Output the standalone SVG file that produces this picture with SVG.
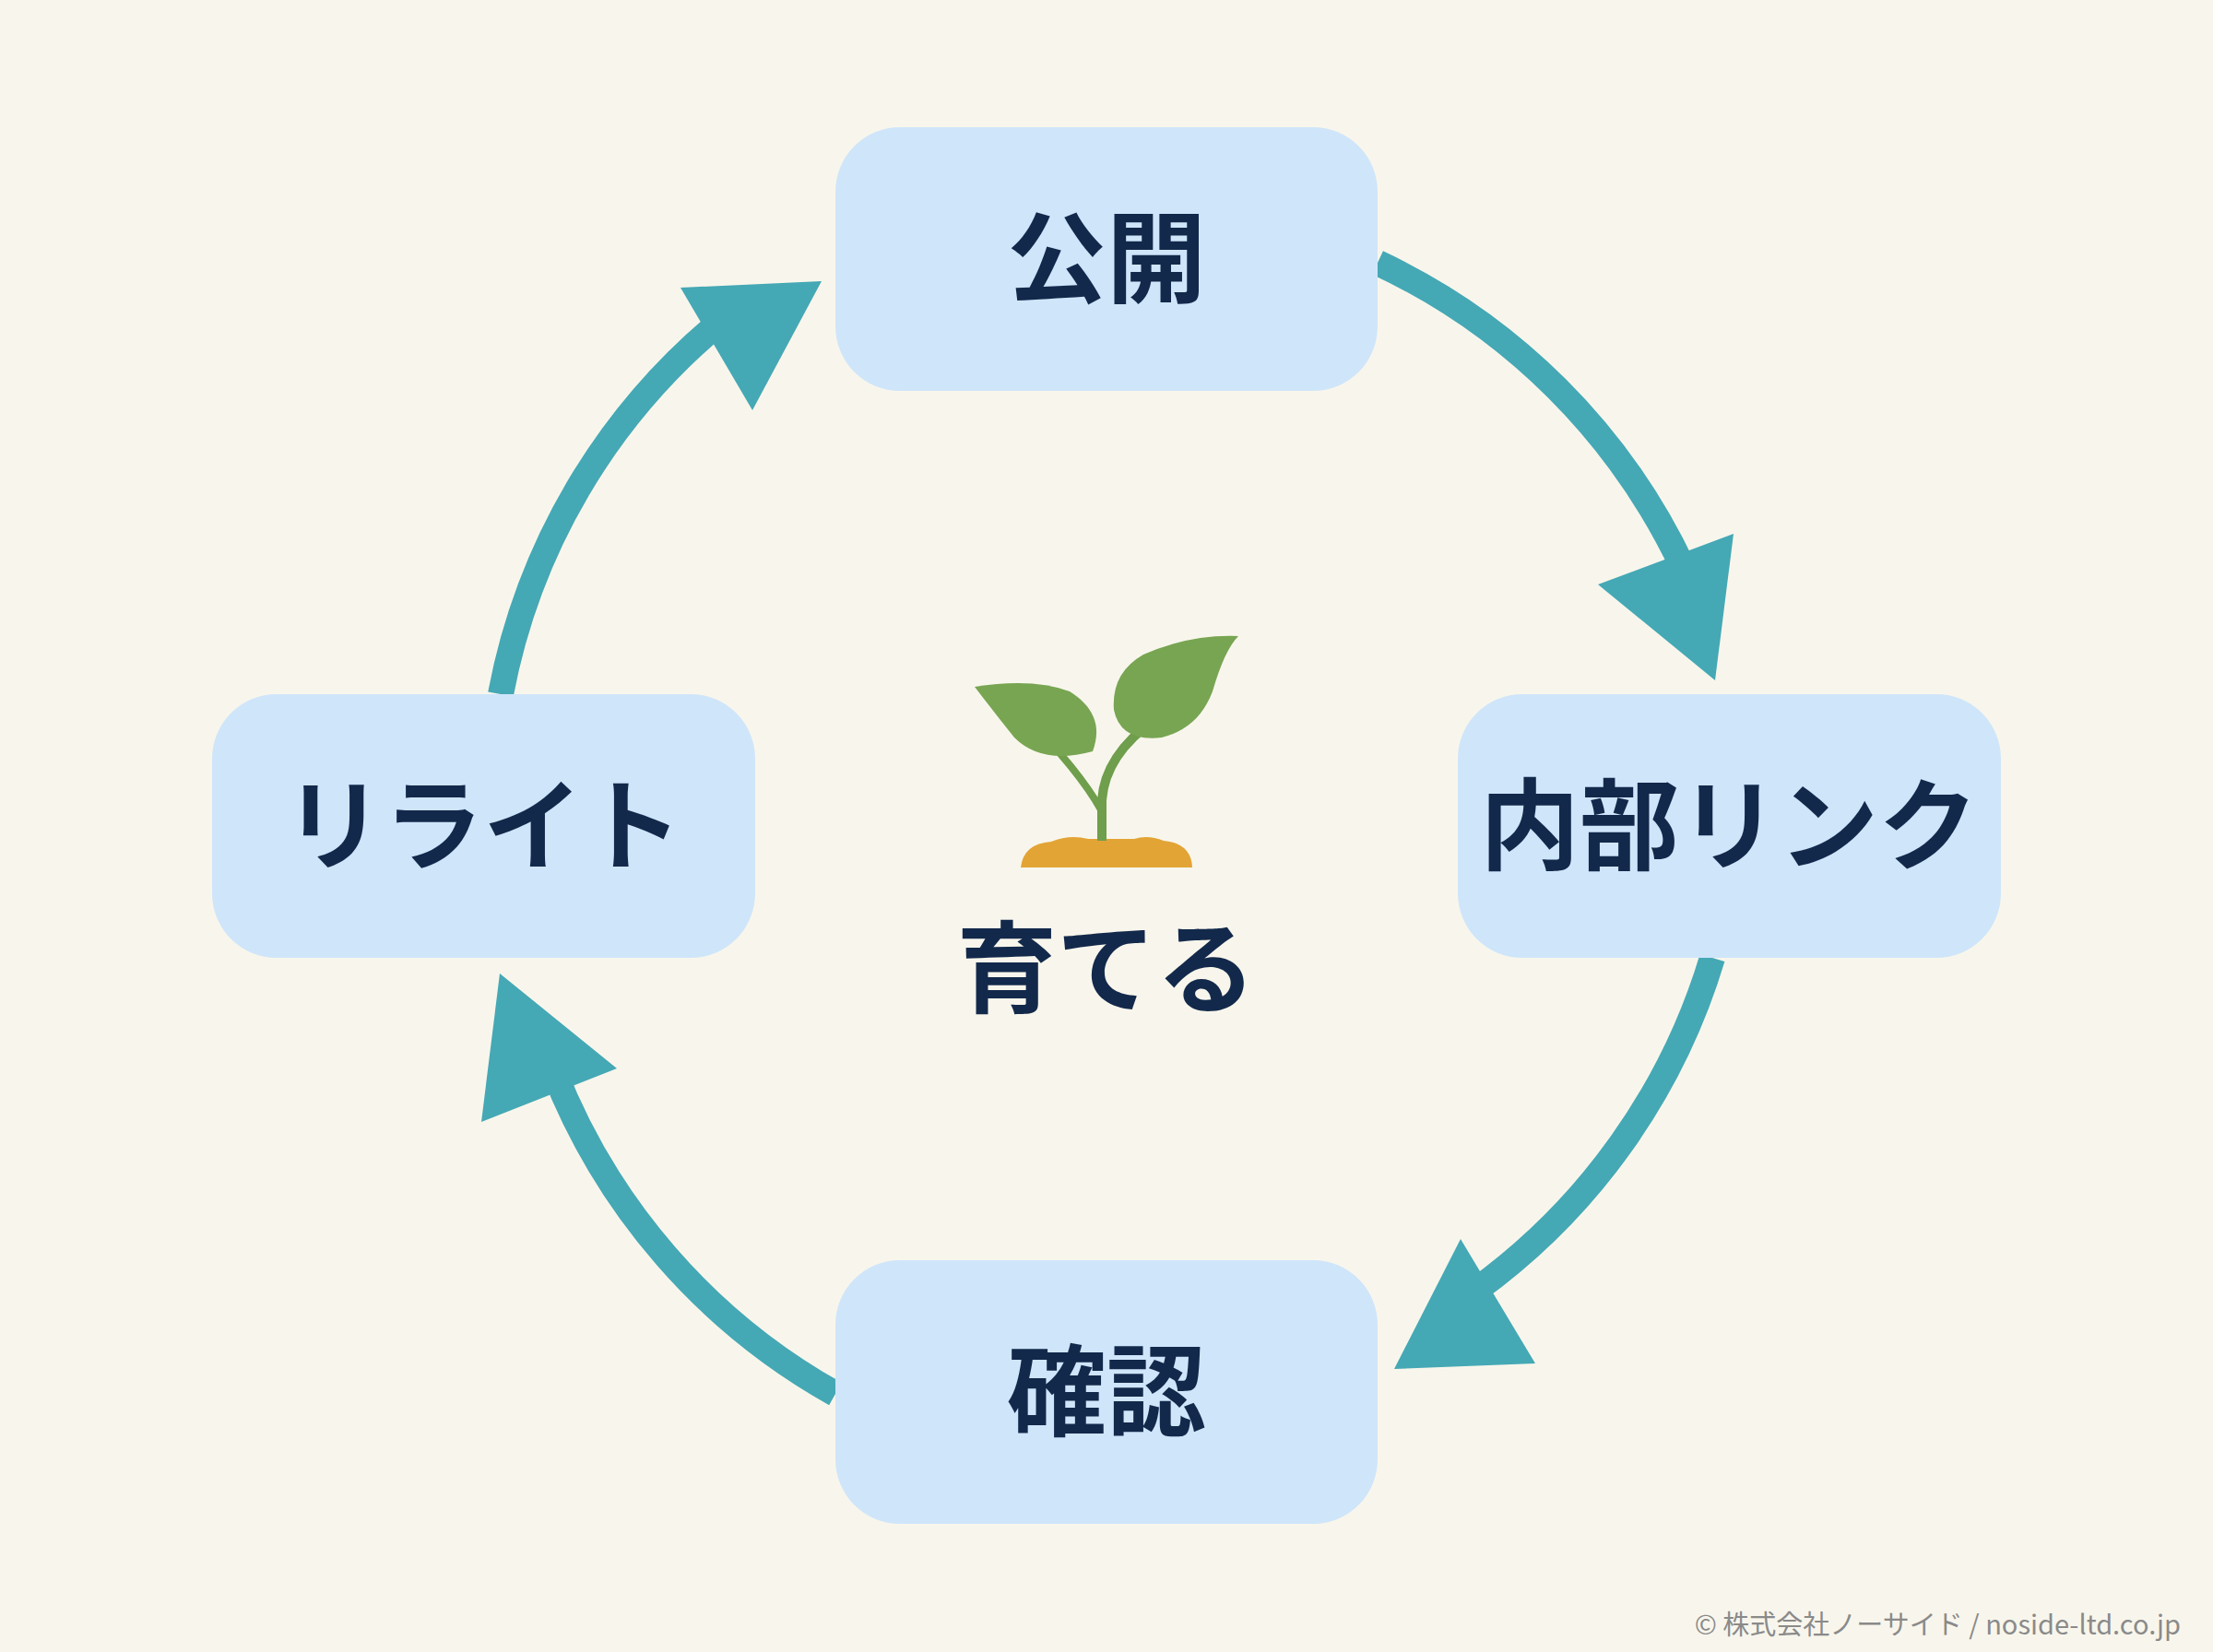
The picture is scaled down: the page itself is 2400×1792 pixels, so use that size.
<svg xmlns="http://www.w3.org/2000/svg" width="2400" height="1792" viewBox="0 0 2400 1792">
<style>
.box{fill:#cfe5fa}
.lbl{font-family:"Noto Sans CJK JP","Noto Sans",sans-serif;font-weight:bold;font-size:108px;fill:#13294b;text-anchor:middle}
.arc{fill:none;stroke:#45a8b5;stroke-width:28}
.head{fill:#45a8b5}
</style>
<rect width="2400" height="1792" fill="#f8f6ec"/>
<g id="connectors">
<path class="arc" d="M1494,285 A690,690 0 0 1 1825,615"/>
<polygon class="head" points="1733,634 1880,579 1860,738"/>
<path class="arc" d="M1857,1039 A690,690 0 0 1 1600,1400"/>
<polygon class="head" points="1584,1344 1665,1479 1512,1485"/>
<path class="arc" d="M906,1512 A690,690 0 0 1 600,1160"/>
<polygon class="head" points="669,1159 542,1056 522,1217"/>
<path class="arc" d="M543,753 A690,690 0 0 1 780,350"/>
<polygon class="head" points="738,312 891,305 816,445"/>
</g>
<g id="n-koukai"><rect class="box" x="906" y="138" width="588" height="286" rx="70"/><text class="lbl" x="1200" y="320">公開</text></g>
<g id="n-naibu"><rect class="box" x="1581" y="753" width="589" height="286" rx="70"/><text class="lbl" x="1875" y="935">内部リンク</text></g>
<g id="n-kakunin"><rect class="box" x="906" y="1367" width="588" height="286" rx="70"/><text class="lbl" x="1200" y="1549">確認</text></g>
<g id="n-rewrite"><rect class="box" x="230" y="753" width="589" height="286" rx="70"/><text class="lbl" x="524" y="935">リライト</text></g>
<g id="center">
<path d="M1107,941 Q1110,915 1140,913 Q1160,905 1180,910 L1230,910 Q1245,905 1262,912 Q1292,915 1293,941 Z" fill="#e3a436"/>
<path d="M1195,912 L1195,880 Q1192,830 1240,790" fill="none" stroke="#6f9e4c" stroke-width="10"/>
<path d="M1195,880 Q1170,835 1110,775" fill="none" stroke="#6f9e4c" stroke-width="8"/>
<path d="M1057,745 Q1120,735 1160,750 Q1200,775 1185,815 Q1130,830 1100,800 Q1080,775 1057,745 Z" fill="#78a552"/>
<path d="M1343,690 Q1290,688 1240,710 Q1205,730 1208,770 Q1215,805 1260,800 Q1300,790 1315,750 Q1328,705 1343,690 Z" fill="#78a552"/>
<text class="lbl" x="1200" y="1090">育てる</text>
</g>
<text x="2365" y="1773" font-family="Noto Sans CJK JP,Noto Sans,sans-serif" font-size="29" fill="#8a8a8a" text-anchor="end">© 株式会社ノーサイド / noside-ltd.co.jp</text>
</svg>
